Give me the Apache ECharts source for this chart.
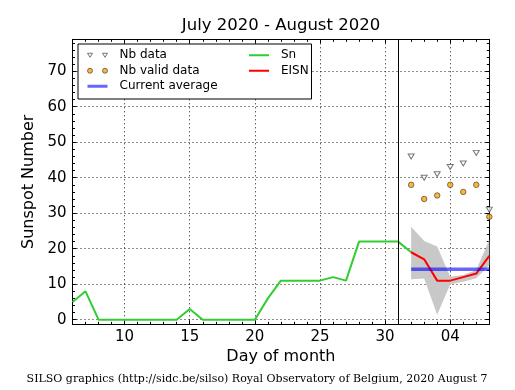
<!DOCTYPE html>
<html><head><meta charset="utf-8">
<script src="https://cdn.jsdelivr.net/npm/echarts@6/dist/echarts.min.js"></script>
<style>html,body{margin:0;padding:0;background:#fff}#c{width:515px;height:390px}</style>
</head><body><div id="c"></div>
<script>
// ---- data ----
const snDays   = [6,7,8,9,10,11,12,13,14,15,16,17,18,19,20,21,22,23,24,25,26,27,28,29,30,31,32];
const snValues = [5,8,0,0,0,0,0,0,0,3,0,0,0,0,0,6,11,11,11,11,12,11,22,22,22,22,19];
const eisnDays   = [32,33,34,35,36,37,38];
const eisnValues = [19,17,11,11,12,13,18];
const bandLow  = [11.4,11.6,1.4,10.0,10.7,11.7,15.4];
const bandHigh = [26.2,22.2,20.6,12.1,12.6,14.0,22.5];
const nbData      = [46,40,41,43,44,47,31];
const nbValidData = [38,34,35,38,36,38,29];
const avgDays  = [32,38];
const avgValue = 14.2;
const dividerDay = 31;
const xMajorTicks = [10,15,20,25,30,35];
const xTickLabels = ['10','15','20','25','30','04'];
const yMajorTicks = [0,10,20,30,40,50,60,70];
const yTickLabels = ['0','10','20','30','40','50','60','70'];

const X_MIN = 6, X_MAX = 38, Y_MIN = -1.3, Y_MAX = 79;
const xMinorTicks = []; for (let d = X_MIN; d <= X_MAX; d++) xMinorTicks.push(d);
const yMinorTicks = []; for (let v = 0; v < Y_MAX; v += 2) yMinorTicks.push(v);

const FONT = 'DejaVu Sans';
const zip = (a, b) => a.map((v, i) => [v, b[i]]);

function xAx(pos, ticks, len, labels, split, line) {
  return {
    type: 'value', position: pos, min: X_MIN, max: X_MAX, interval: 1,
    axisLine: {show: line, onZero: false, lineStyle: {color: '#000', width: 1}},
    axisTick: {show: true, inside: true, length: len, customValues: ticks, lineStyle: {color: '#000', width: 1}},
    axisLabel: {show: labels, customValues: ticks, margin: 5, color: '#000', fontFamily: FONT, fontSize: 15,
      formatter: v => { const i = xMajorTicks.indexOf(v); return i >= 0 ? xTickLabels[i] : ''; }},
    splitLine: {show: split, lineStyle: {color: '#000', width: 0.9, type: [1, 3]}},
    name: labels ? 'Day of month' : '', nameLocation: 'middle', nameGap: 25,
    nameTextStyle: {fontFamily: FONT, fontSize: 16, color: '#000'}
  };
}
function yAx(pos, ticks, len, labels, split, line) {
  return {
    type: 'value', position: pos, min: Y_MIN, max: Y_MAX,
    axisLine: {show: line, onZero: false, lineStyle: {color: '#000', width: 1}},
    axisTick: {show: true, inside: true, length: len, customValues: ticks, lineStyle: {color: '#000', width: 1}},
    axisLabel: {show: labels, customValues: ticks, margin: 6, color: '#000', fontFamily: FONT, fontSize: 15,
      formatter: v => { const i = yMajorTicks.indexOf(v); return i >= 0 ? yTickLabels[i] : ''; }},
    splitLine: {show: split, lineStyle: {color: '#000', width: 0.9, type: [1, 3]}},
    name: labels ? 'Sunspot Number' : '', nameLocation: 'middle', nameGap: 30, nameRotate: 90,
    nameTextStyle: {fontFamily: FONT, fontSize: 16, color: '#000'}
  };
}

const triPath = 'path://M0,0L10,0L5,8Z';
const legendTri = 'path://M0,0L5,0L2.5,4Z M15,0L20,0L17.5,4Z';
const legendCirc = 'path://M0,2.5a2.5,2.5 0 1,0 5,0a2.5,2.5 0 1,0 -5,0Z M15,2.5a2.5,2.5 0 1,0 5,0a2.5,2.5 0 1,0 -5,0Z';
const lineItem = (name, w) => ({name, itemStyle: {opacity: 0}, lineStyle: {width: w}});

const chart = echarts.init(document.getElementById('c'), null, {renderer: 'canvas'});
chart.setOption({
  animation: false,
  backgroundColor: '#fff',
  grid: {left: 72.5, right: 25.7, top: 39.3, bottom: 65.7, containLabel: false},
  xAxis: [
    xAx('bottom', xMajorTicks, 4, true, true, true),
    xAx('bottom', xMinorTicks, 2.5, false, false, false),
    xAx('top', xMinorTicks, 2.5, false, false, true),
    xAx('top', xMajorTicks, 4, false, false, false)
  ],
  yAxis: [
    yAx('left', yMajorTicks, 4, true, true, true),
    yAx('left', yMinorTicks, 2.5, false, false, false),
    yAx('right', yMinorTicks, 2.5, false, false, true),
    yAx('right', yMajorTicks, 4, false, false, false)
  ],
  legend: [
    {
      data: [
        {name: 'Nb data', icon: legendTri, itemStyle: {color: '#ffffff', borderColor: '#555', borderWidth: 1}},
        {name: 'Nb valid data', icon: legendCirc, itemStyle: {color: '#ffa500', borderColor: '#333', borderWidth: 0.8}},
        lineItem('Current average', 3)
      ],
      orient: 'vertical', left: 78, top: 44, padding: [4, 94, 5.5, 8],
      itemGap: 1, itemWidth: 20, itemHeight: 5,
      borderColor: '#000', borderWidth: 1, backgroundColor: '#fff', borderRadius: 0,
      selectedMode: false,
      textStyle: {fontFamily: FONT, fontSize: 12, color: '#000', lineHeight: 14.5, padding: [0, 0, 0, 7]}
    },
    {
      data: [lineItem('Sn', 2), lineItem('EISN', 2)],
      orient: 'vertical', left: 248, top: 44, padding: [4, 0, 0, 0],
      itemGap: 1, itemWidth: 20, itemHeight: 5, selectedMode: false,
      textStyle: {fontFamily: FONT, fontSize: 12, color: '#000', lineHeight: 14.5, padding: [0, 0, 0, 7]}
    }
  ],
  graphic: [
    {type: 'text', x: 281, y: 26, style: {text: 'July 2020 - August 2020', fontFamily: FONT, fontSize: 16.5,
      fill: '#000', textAlign: 'center', textVerticalAlign: 'middle'}},
    {type: 'text', x: 257, y: 379, style: {text: 'SILSO graphics (http://sidc.be/silso) Royal Observatory of Belgium, 2020 August 7',
      fontFamily: 'DejaVu Serif', fontSize: 11, fill: '#000', textAlign: 'center', textVerticalAlign: 'middle'}}
  ],
  series: [
    {name: 'band', type: 'custom', silent: true, z: 1,
      data: eisnDays.map((d, i) => [d, bandLow[i], bandHigh[i]]),
      encode: {x: 0, y: [1, 2]},
      renderItem: (params, api) => {
        if (params.dataIndex !== 0) return null;
        const top = eisnDays.map((d, i) => api.coord([d, bandHigh[i]]));
        const bot = eisnDays.map((d, i) => api.coord([d, bandLow[i]])).reverse();
        return {type: 'polygon', shape: {points: top.concat(bot)}, style: {fill: '#c8c8c8', stroke: 'none'}};
      }},
    {name: 'Sn', type: 'line', data: zip(snDays, snValues), symbol: 'none', color: '#32cd32',
      lineStyle: {color: '#32cd32', width: 2}, z: 3,
      markLine: {silent: true, symbol: ['none', 'none'], label: {show: false},
        lineStyle: {color: '#000', type: 'solid', width: 1}, data: [{xAxis: dividerDay}]}},
    {name: 'EISN', type: 'line', data: zip(eisnDays, eisnValues), symbol: 'none', color: '#ff0000',
      lineStyle: {color: '#ff0000', width: 2}, z: 4},
    {name: 'Current average', type: 'line', data: avgDays.map(d => [d, avgValue]), symbol: 'none',
      color: 'rgba(0,0,255,0.6)', lineStyle: {color: 'rgba(0,0,255,0.6)', width: 3.5}, z: 5},
    {name: 'Nb data', type: 'scatter', data: zip(eisnDays, nbData), symbol: triPath, symbolSize: [6, 5],
      itemStyle: {color: '#ffffff', borderColor: '#555', borderWidth: 1}, z: 6},
    {name: 'Nb valid data', type: 'scatter', data: zip(eisnDays, nbValidData), symbol: 'circle', symbolSize: 5.5,
      itemStyle: {color: '#ffa500', borderColor: '#333', borderWidth: 0.8}, z: 6}
  ]
});
</script>
</body></html>
